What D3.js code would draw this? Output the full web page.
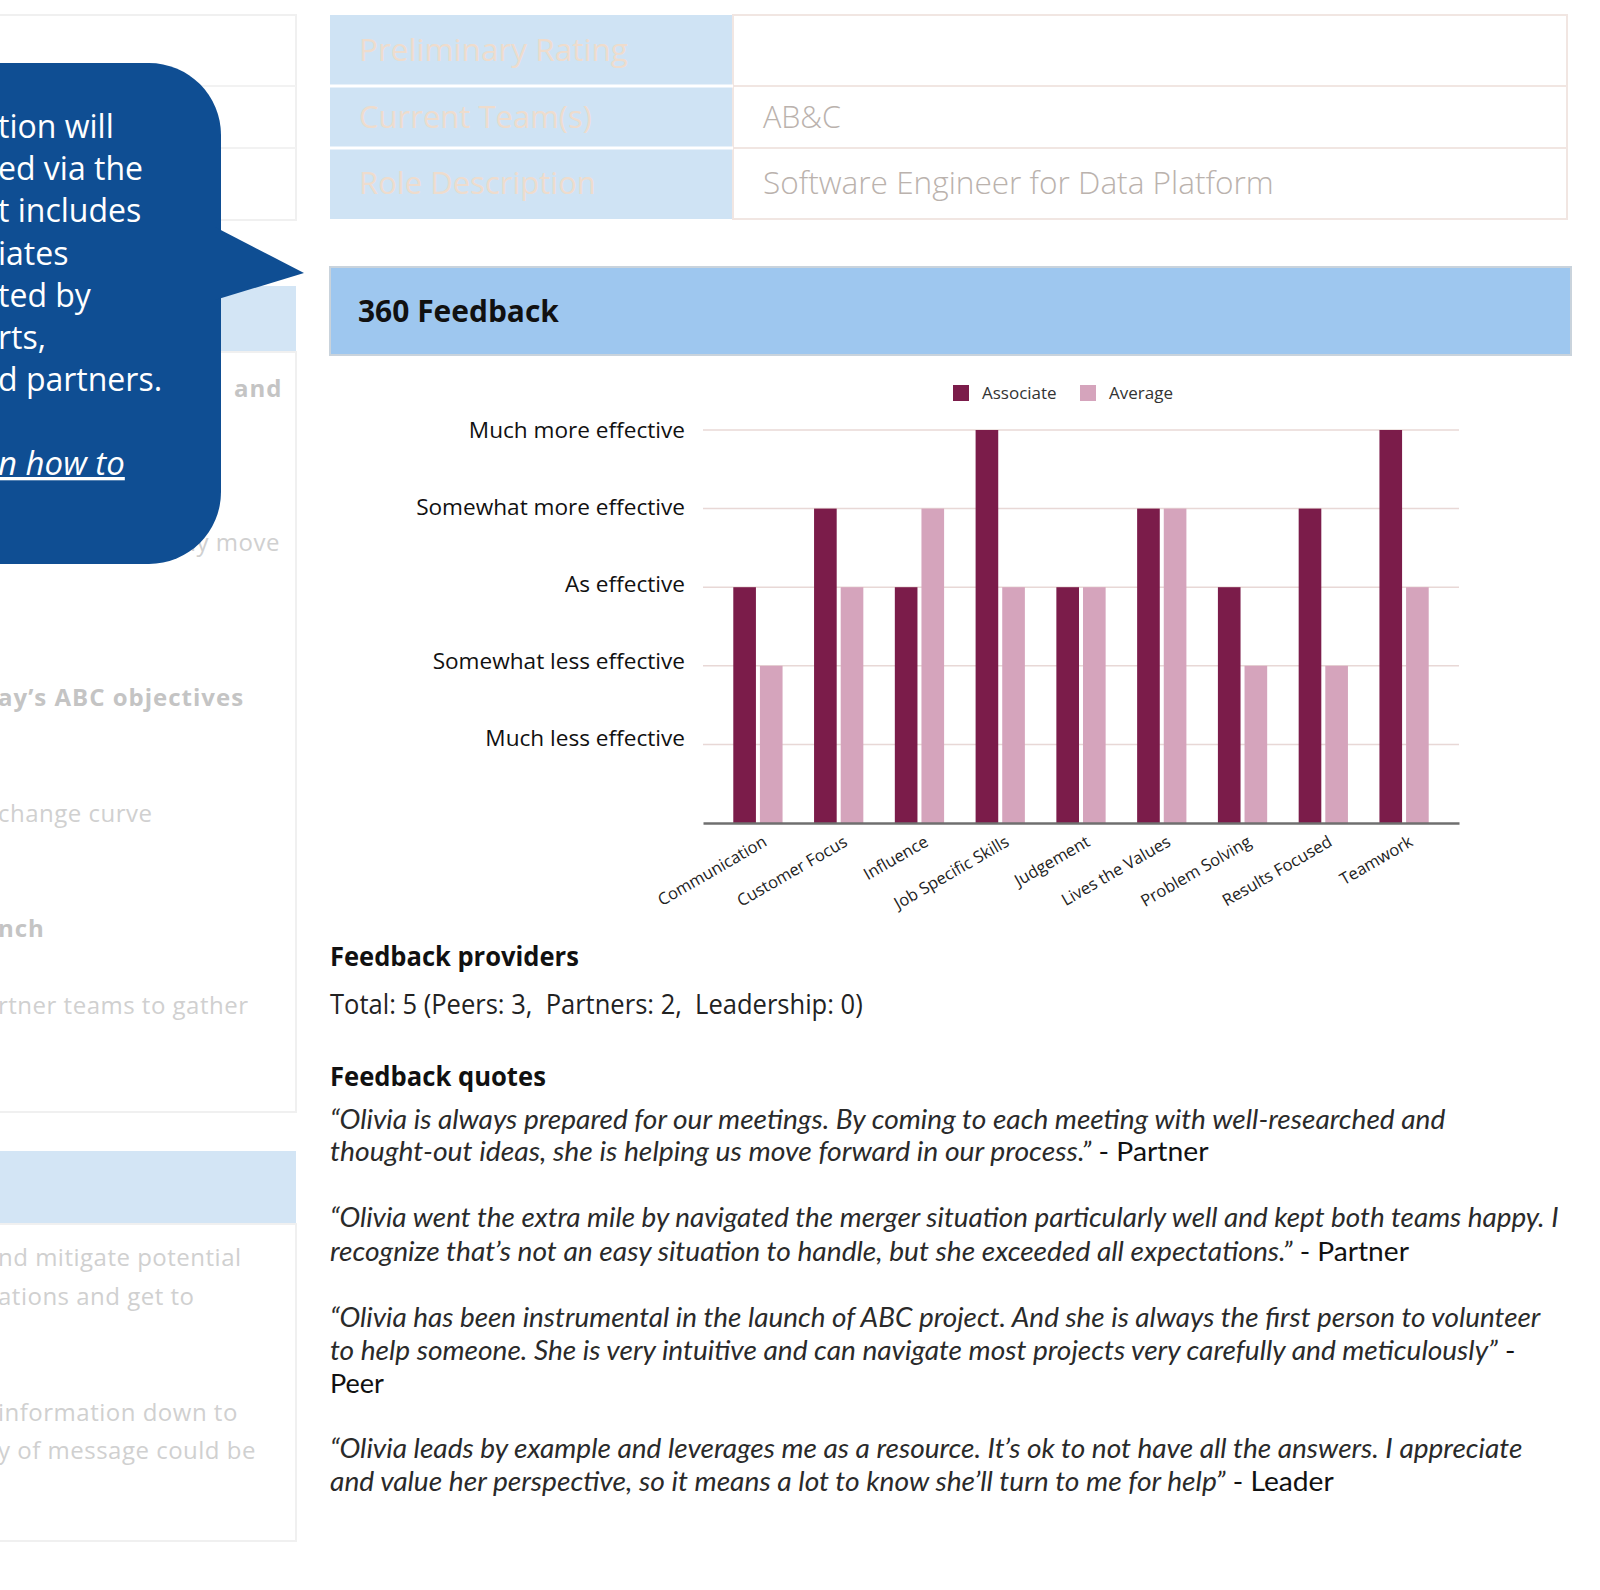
<!DOCTYPE html>
<html><head><meta charset="utf-8">
<script src="https://cdn.jsdelivr.net/npm/d3@7"></script>
<style>
html,body{margin:0;padding:0;background:#fff;}
svg{display:block;font-family:"Open Sans",sans-serif;}
text{white-space:pre;}
</style></head>
<body>
<script>
// ---------- DATA ----------
const categories = ["Communication","Customer Focus","Influence","Job Specific Skills","Judgement","Lives the Values","Problem Solving","Results Focused","Teamwork"];
const associateValues = [3,4,3,5,3,4,3,4,5];
const averageValues   = [2,3,4,3,3,4,2,2,3];
const seriesNames = ["Associate","Average"];
const levelLabels = ["Much less effective","Somewhat less effective","As effective","Somewhat more effective","Much more effective"];
const levelValues = [1,2,3,4,5];

const tableLabels = ["Preliminary Rating","Current Team(s)","Role Description"];
const tableValues = ["","AB&C","Software Engineer for Data Platform"];

const bubbleLines = ["tion will","ed via the","t includes","iates","ted by","rts,","d partners."];
const bubbleLink = "n how to";

const fadedLines = [
  {t:"and", x:234, y:397, b:true},
  {t:"ly move", x:190, y:551, b:false},
  {t:"ay\u2019s ABC objectives", x:-2, y:706, b:true},
  {t:"change curve", x:-2, y:822, b:false},
  {t:"nch", x:-2, y:937, b:true},
  {t:"rtner teams to gather", x:-2, y:1014, b:false},
  {t:"nd mitigate potential", x:-2, y:1266, b:false},
  {t:"ations and get to", x:-2, y:1305, b:false},
  {t:"information down to", x:-2, y:1421, b:false},
  {t:"y of message could be", x:-2, y:1459, b:false}
];

const providersTitle = "Feedback providers";
const providersText = "Total: 5 (Peers: 3,  Partners: 2,  Leadership: 0)";
const quotesTitle = "Feedback quotes";
const quoteLines = [
  {y:1129, w:1116, parts:[["\u201cOlivia is always prepared for our meetings. By coming to each meeting with well-researched and",true]]},
  {y:1161, w:879,  parts:[["thought-out ideas, she is helping us move forward in our process.\u201d",true],[" - Partner",false]]},
  {y:1227, w:1229, parts:[["\u201cOlivia went the extra mile by navigated the merger situation particularly well and kept both teams happy. I",true]]},
  {y:1261, w:1079, parts:[["recognize that\u2019s not an easy situation to handle, but she exceeded all expectations.\u201d",true],[" - Partner",false]]},
  {y:1327, w:1211, parts:[["\u201cOlivia has been instrumental in the launch of ABC project. And she is always the first person to volunteer",true]]},
  {y:1360, w:1186, parts:[["to help someone. She is very intuitive and can navigate most projects very carefully and meticulously\u201d",true],[" -",false]]},
  {y:1393, w:54,   parts:[["Peer",false]]},
  {y:1458, w:1193, parts:[["\u201cOlivia leads by example and leverages me as a resource. It\u2019s ok to not have all the answers. I appreciate",true]]},
  {y:1491, w:1004, parts:[["and value her perspective, so it means a lot to know she\u2019ll turn to me for help\u201d",true],[" - Leader",false]]}
];

// ---------- DRAW ----------
const W = 1600, H = 1590;
const svg = d3.select("body").append("svg").attr("width",W).attr("height",H);

function fit(sel, x, w){
  const len = sel.node().getComputedTextLength();
  if (len>0){
    const s = w/len;
    sel.attr("transform",`translate(${x},0) scale(${s},1) translate(${-x},0)`);
  }
}

// left faded panel
const lp = svg.append("g");
lp.append("rect").attr("x",-2).attr("y",15).attr("width",298).attr("height",205).attr("fill","#fff").attr("stroke","#f0f0f0").attr("stroke-width",2);
[86,148].forEach(y=>lp.append("line").attr("x1",0).attr("x2",296).attr("y1",y).attr("y2",y).attr("stroke","#f2f2f2").attr("stroke-width",2));
lp.append("rect").attr("x",-2).attr("y",286).attr("width",298).attr("height",66).attr("fill","#d3e5f5");
lp.append("rect").attr("x",-2).attr("y",352).attr("width",298).attr("height",760).attr("fill","#fff").attr("stroke","#f0f0f0").attr("stroke-width",2);
lp.append("rect").attr("x",-2).attr("y",1151).attr("width",298).attr("height",73).attr("fill","#d3e5f5");
lp.append("rect").attr("x",-2).attr("y",1224).attr("width",298).attr("height",317).attr("fill","#fff").attr("stroke","#f0f0f0").attr("stroke-width",2);
fadedLines.forEach(d=>{
  lp.append("text").attr("x",d.x).attr("y",d.y).text(d.t)
    .attr("font-size",24).attr("font-weight",d.b?700:400)
    .attr("letter-spacing",d.b?1:0.5)
    .attr("fill",d.b?"#c4c4c4":"#d0d0d0");
});

// speech bubble
const bubbleColor = "#0f4e93";
const bub = svg.append("g");
bub.append("rect").attr("x",-80).attr("y",63).attr("width",301).attr("height",501).attr("rx",72).attr("fill",bubbleColor);
bub.append("path").attr("d","M215,227 L304,273 L215,300 Z").attr("fill",bubbleColor);
bubbleLines.forEach((t,i)=>{
  bub.append("text").attr("x",-2).attr("y",138+i*42.2).text(t)
    .attr("font-size",32).attr("fill","#fff").attr("font-weight",500);
});
bub.append("text").attr("x",-2).attr("y",475).text(bubbleLink)
  .attr("font-size",33).attr("fill","#fff").attr("font-style","italic")
  .attr("text-decoration","underline");

// top table
const tb = svg.append("g");
const rowY = [15,86,148,219];
const labelWidths = [269,233,237];
const valueWidths = [0,78,511];
tableLabels.forEach((lab,i)=>{
  const y0=rowY[i], y1=rowY[i+1];
  tb.append("rect").attr("x",330).attr("y",y0).attr("width",403).attr("height",y1-y0).attr("fill","#cfe3f4");
  tb.append("rect").attr("x",733).attr("y",y0).attr("width",834).attr("height",y1-y0).attr("fill","#fff").attr("stroke","#f1e6e2").attr("stroke-width",2);
  const cy = (y0+y1)/2 + 11;
  const lt = tb.append("text").attr("x",359).attr("y",cy).text(lab).attr("font-size",31).attr("fill","#eedccd");
  fit(lt,359,labelWidths[i]);
  if (tableValues[i]) {
    const t = tb.append("text").attr("x",763).attr("y",cy).text(tableValues[i]).attr("font-size",31).attr("font-weight",300).attr("fill","#bab2ad");
    fit(t,763,valueWidths[i]);
  }
});
[86,148].forEach(y=>tb.append("line").attr("x1",330).attr("x2",733).attr("y1",y).attr("y2",y).attr("stroke","#fff").attr("stroke-width",3));

// 360 Feedback header
svg.append("rect").attr("x",330).attr("y",267).attr("width",1241).attr("height",88).attr("fill","#9ec7ef").attr("stroke","#c9d3dc").attr("stroke-width",2);
const hd = svg.append("text").attr("x",358).attr("y",322).text("360 Feedback").attr("font-size",30).attr("font-weight",700).attr("fill","#111");
fit(hd,358,201);

// chart
const x0 = d3.scaleBand().domain(categories).range([703,1459]).paddingInner(0.39).paddingOuter(0.375);
const x1 = d3.scaleBand().domain(seriesNames).range([0,x0.bandwidth()]).paddingInner(0.15);
const y = d3.scaleLinear().domain([0,5]).range([823,430]);
const colors = d3.scaleOrdinal().domain(seriesNames).range(["#7b1c4a","#d5a4bc"]);

const chart = svg.append("g");
chart.selectAll("line.grid").data(levelValues).join("line").attr("class","grid")
  .attr("x1",703).attr("x2",1459).attr("y1",d=>y(d)).attr("y2",d=>y(d))
  .attr("stroke","#e8d8d6").attr("stroke-width",1.5);

const yAxis = d3.axisLeft(y).tickValues(levelValues).tickFormat((d,i)=>levelLabels[i]).tickSize(0).tickPadding(18);
const ya = chart.append("g").attr("transform","translate(703,0)").call(yAxis);
ya.select(".domain").remove();
ya.selectAll("text").attr("font-size",22.6).attr("fill","#111").attr("font-family","Open Sans")
  .attr("dy",d=>(0.32*22.6 - (5-d)*1.6).toFixed(1)+"px");

const groups = chart.selectAll("g.grp").data(categories.map((c,i)=>({c, vals:[associateValues[i],averageValues[i]]})))
  .join("g").attr("class","grp").attr("transform",d=>`translate(${x0(d.c)},0)`);
groups.selectAll("rect").data(d=>d.vals.map((v,j)=>({s:seriesNames[j],v})))
  .join("rect").attr("x",d=>x1(d.s)).attr("width",x1.bandwidth())
  .attr("y",d=>y(d.v)).attr("height",d=>y(0)-y(d.v)).attr("fill",d=>colors(d.s));

const xAxis = d3.axisBottom(x0).tickSize(0).tickPadding(0);
const xa = chart.append("g").attr("transform",`translate(0,${y(0)})`).call(xAxis);
xa.select(".domain").attr("stroke","#6f6f6f").attr("stroke-width",2.5);
xa.selectAll("text").attr("font-size",16.5).attr("fill","#222").attr("font-family","Open Sans")
  .attr("text-anchor","end").attr("dy",null).attr("y",0)
  .attr("transform","translate(10,22) rotate(-30)");

// legend
const lg = chart.append("g");
seriesNames.forEach((s,i)=>{
  const lx = i===0?953:1080;
  lg.append("rect").attr("x",lx).attr("y",385).attr("width",16).attr("height",16).attr("fill",colors(s));
  lg.append("text").attr("x",lx+29).attr("y",399).text(s).attr("font-size",17).attr("fill","#333");
});

// providers & quotes
const pt = svg.append("text").attr("x",330).attr("y",966).text(providersTitle).attr("font-size",27).attr("font-weight",700).attr("fill","#111");
fit(pt,330,249);
const ptx = svg.append("text").attr("x",330).attr("y",1014).text(providersText).attr("font-size",27).attr("fill","#222");
fit(ptx,330,533);
const qt = svg.append("text").attr("x",330).attr("y",1086).text(quotesTitle).attr("font-size",27).attr("font-weight",700).attr("fill","#111");
fit(qt,330,216);

quoteLines.forEach(l=>{
  const t = svg.append("text").attr("x",330).attr("y",l.y).attr("font-size",26.5)
    .attr("font-family","Lato").attr("fill","#1a1a1a");
  l.parts.forEach(p=>{
    t.append("tspan").text(p[0]).attr("font-style",p[1]?"italic":"normal").attr("fill",p[1]?"#2a2a2a":"#111");
  });
  fit(t,330,l.w);
});
</script>
</body></html>
